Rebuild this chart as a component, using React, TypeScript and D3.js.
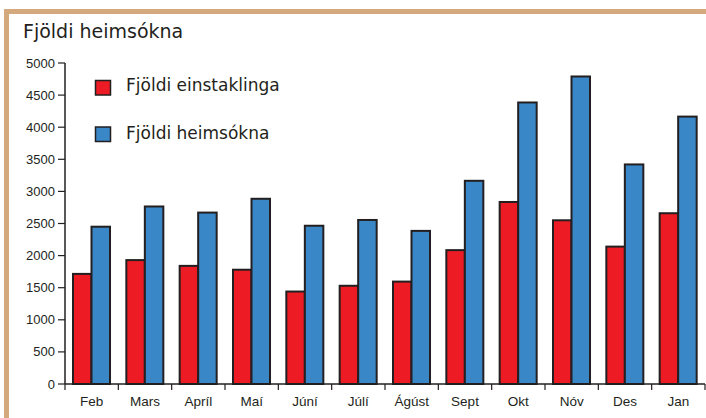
import React from 'react';
import * as d3 from 'd3';

const months = ['Feb', 'Mars', 'Apríl', 'Maí', 'Júní', 'Júlí', 'Ágúst', 'Sept', 'Okt', 'Nóv', 'Des', 'Jan'];
const einstaklinga = [1715, 1930, 1840, 1780, 1440, 1530, 1595, 2085, 2835, 2550, 2140, 2660];
const heimsoknir = [2450, 2765, 2670, 2885, 2465, 2555, 2385, 3165, 4385, 4790, 3420, 4165];
const yTicks = [0, 500, 1000, 1500, 2000, 2500, 3000, 3500, 4000, 4500, 5000];
const seriesNames = ['Fjöldi einstaklinga', 'Fjöldi heimsókna'];
const colors = ['#ed1c24', '#3a87c8'];

const W = 706, H = 418;
const font = '"Liberation Sans", Arial, sans-serif';
const wideFont = '"DejaVu Sans", sans-serif';
const ink = '#231f20';

const App: React.FC = () => {
    const x = d3.scaleBand<string>().domain(months).range([65, 705]);
    const y = d3.scaleLinear().domain([0, 5000]).range([384, 63]);
    const inner = d3.scaleBand<number>().domain([0, 1]).range([8, 45]);
    const series = [einstaklinga, heimsoknir];

    return (
        <svg width={W} height={H} style={{ position: 'absolute', left: 0, top: 0 }}>
            <rect x={0} y={0} width={W} height={H} fill="#fff" />
            <rect x={4} y={9} width={W - 4} height={5} fill="#d4a97e" />
            <rect x={4} y={9} width={5} height={H - 9} fill="#d4a97e" />
            <text x={23} y={38} fontFamily={wideFont} fontSize={19} fill={ink}>Fjöldi heimsókna</text>

            {series.map((vals, si) =>
                vals.map((v, i) => (
                    <rect key={`${si}-${i}`}
                        x={(x(months[i]) ?? 0) + (inner(si) ?? 0)}
                        y={y(v)}
                        width={inner.bandwidth()}
                        height={y(0) - y(v)}
                        fill={colors[si]} stroke={ink} strokeWidth={2} />
                ))
            )}

            <line x1={65} x2={65} y1={y(5000)} y2={y(0)} stroke={ink} strokeWidth={1.5} />
            {yTicks.map(t => (
                <g key={t}>
                    <line x1={58} x2={65} y1={y(t)} y2={y(t)} stroke={ink} strokeWidth={1.2} />
                    <text x={55} y={y(t) + 4.5} textAnchor="end" fontFamily={font} fontSize={13} fill={ink}>{t}</text>
                </g>
            ))}

            <line x1={65} x2={705} y1={y(0)} y2={y(0)} stroke={ink} strokeWidth={1.5} />
            {months.map(m => (
                <g key={m}>
                    <line x1={x(m)} x2={x(m)} y1={y(0)} y2={y(0) + 6} stroke={ink} strokeWidth={1.2} />
                    <text x={(x(m) ?? 0) + x.bandwidth() / 2} y={406} textAnchor="middle" fontFamily={font} fontSize={13.5} fill={ink}>{m}</text>
                </g>
            ))}
            <line x1={705} x2={705} y1={y(0)} y2={y(0) + 6} stroke={ink} strokeWidth={1.2} />

            {seriesNames.map((n, i) => (
                <g key={n}>
                    <rect x={95.5} y={80.5 + i * 46.5} width={15} height={14.5} fill={colors[i]} stroke={ink} strokeWidth={1.5} />
                    <text x={126} y={91 + i * 47.5} fontFamily={wideFont} fontSize={17} fill={ink}>{n}</text>
                </g>
            ))}
        </svg>
    );
};

export default App;
